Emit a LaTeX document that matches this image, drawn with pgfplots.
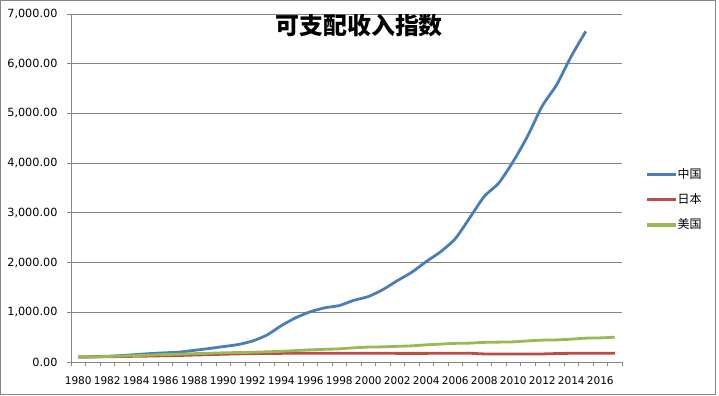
\documentclass[border=0pt]{standalone}
\usepackage{pgfplots}
\usepackage{pgfplotstable}
\pgfplotsset{compat=1.18}
\usepackage{fontspec}
\setmainfont{DejaVu Sans}
\newfontfamily\cjk{Noto Sans CJK SC}
\definecolor{cnblue}{HTML}{4A7EBB}
\definecolor{jpred}{HTML}{BE4B48}
\definecolor{usgreen}{HTML}{98B954}
\definecolor{axgray}{HTML}{868686}
\pgfplotstableread{
year cn jp us
1980 100 100 100
1981 105 103 105
1982 115 106 110
1983 130 110 120
1984 150 115 130
1985 170 120 140
1986 185 126 150
1987 200 132 158
1988 235 140 168
1989 270 148 175
1990 310 156 185
1991 350 163 190
1992 420 168 195
1993 540 171 205
1994 730 174 215
1995 890 176 230
1996 1010 177 245
1997 1090 178 255
1998 1135 177 265
1999 1240 176 285
2000 1316 176 300
2001 1455 175 305
2002 1635 174 315
2003 1805 174 325
2004 2020 174 345
2005 2220 175 360
2006 2480 176 375
2007 2900 176 380
2008 3330 162 395
2009 3600 160 400
2010 4035 160 405
2011 4550 160 425
2012 5150 162 440
2013 5580 170 445
2014 6150 175 460
2015 6650 176 480
2016 nan 177 485
2017 nan 178 500
}\datatable
\begin{document}
\begin{tikzpicture}[x=1bp,y=1bp]
\path[use as bounding box] (0,0) rectangle (719,395);
\draw[axgray, line width=1bp] (0.5,0.5) rectangle (715.5,394.5);
\begin{axis}[
  at={(71bp,33bp)}, anchor=south west,
  scale only axis, width=551bp, height=348bp,
  xmin=-0.5, xmax=37.5, ymin=0, ymax=7000,
  axis x line*=bottom, axis y line*=left,
  axis line style={axgray, line width=0.8bp, -},
  xtick={0,2,...,36},
  xticklabels={1980,1982,1984,1986,1988,1990,1992,1994,1996,1998,2000,2002,2004,2006,2008,2010,2012,2014,2016},
  minor xtick={-0.5,0.5,...,37.5},
  ytick={0,1000,...,7000},
  tick align=outside,
  major tick length=4bp, minor tick length=4bp,
  major x tick style={draw=none},
  minor x tick style={axgray, line width=0.8bp},
  major y tick style={axgray, line width=0.8bp},
  ymajorgrids, grid style={axgray, line width=0.8bp},
  scaled y ticks=false,
  y tick label style={font=\fontsize{11.3}{12}\selectfont, /pgf/number format/fixed, /pgf/number format/fixed zerofill, /pgf/number format/precision=2, /pgf/number format/1000 sep={,}, /pgf/number format/assume math mode=true, xshift=-6bp},
  x tick label style={font=\fontsize{10.6}{12}\selectfont, yshift=-7bp},
  legend style={draw=none, fill=none, at={(1.04,0.568)}, anchor=north west, font=\cjk\fontsize{12}{14}\selectfont, row sep=9.5bp, legend cell align=left},
]
\addplot[cnblue, line width=2.8bp, smooth, tension=0.4, forget plot] table[x expr=\thisrow{year}-1980, y=cn] {\datatable};
\addplot[jpred, line width=2.8bp, smooth, tension=0.4, forget plot] table[x expr=\thisrow{year}-1980, y=jp] {\datatable};
\addplot[usgreen, line width=2.8bp, smooth, tension=0.4, forget plot] table[x expr=\thisrow{year}-1980, y=us] {\datatable};
\addlegendimage{legend image code/.code={\fill[cnblue] (0bp,-1.4bp) rectangle (28bp,1.4bp);}}
\addlegendentry{中国}
\addlegendimage{legend image code/.code={\fill[jpred] (0bp,-0.7bp) rectangle (28bp,0.7bp);}}
\addlegendentry{日本}
\addlegendimage{legend image code/.code={\fill[usgreen] (0bp,-1.4bp) rectangle (28bp,1.4bp);}}
\addlegendentry{美国}
\node[font=\cjk\bfseries\fontsize{24}{24}\selectfont] at (rel axis cs:0.523,0.968) {可支配收入指数};
\end{axis}
\end{tikzpicture}
\end{document}
